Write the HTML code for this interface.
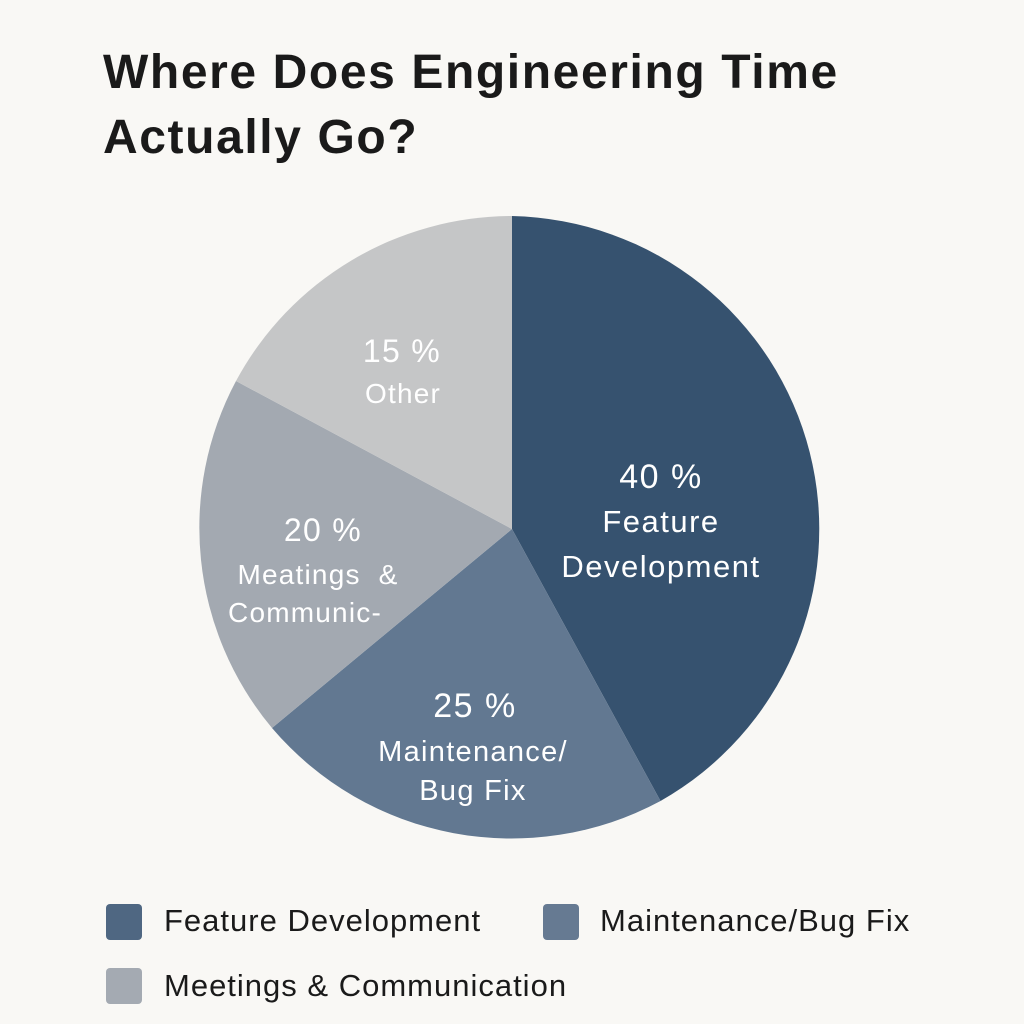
<!DOCTYPE html>
<html><head><meta charset="utf-8"><style>
html,body{margin:0;padding:0;background:#f9f8f5;}
body{width:1024px;height:1024px;overflow:hidden;position:relative;font-family:"Liberation Sans",sans-serif;}
</style></head><body>
<svg width="1024" height="1024" viewBox="0 0 1024 1024" xmlns="http://www.w3.org/2000/svg" style="position:absolute;left:0;top:0">
<rect width="1024" height="1024" fill="#f9f8f5"/>
<text x="103" y="88" font-size="48" font-weight="bold" fill="#1a1a1a" letter-spacing="1.6" font-family="Liberation Sans, sans-serif">Where Does Engineering Time</text>
<text x="103" y="153" font-size="48" font-weight="bold" fill="#1a1a1a" letter-spacing="1.6" font-family="Liberation Sans, sans-serif">Actually Go?</text>
<g>
<path d="M512,529 L512,216 A314,313 0 0 1 660.5,801 Z" fill="#36526f"/>
<path d="M512,529 L660.5,801 A314,313 0 0 1 272,728 Z" fill="#627891"/>
<path d="M512,529 L272,728 A314,313 0 0 1 236,381 Z" fill="#a3a9b1"/>
<path d="M512,529 L236,381 A314,313 0 0 1 512,216 Z" fill="#c5c6c7"/>
</g>
<g fill="#ffffff" font-family="Liberation Sans, sans-serif" text-anchor="middle">
<text x="661" y="488" font-size="34" letter-spacing="1.5">40 %</text>
<text x="661" y="532" font-size="31" letter-spacing="1.5">Feature</text>
<text x="661" y="577" font-size="31" letter-spacing="1.5">Development</text>
<text x="475" y="717" font-size="34" letter-spacing="1.5">25 %</text>
<text x="473" y="761" font-size="29" letter-spacing="1.3">Maintenance/</text>
<text x="473" y="800" font-size="29" letter-spacing="1.3">Bug Fix</text>
<text x="323" y="541" font-size="32" letter-spacing="1.3">20 %</text>
<text x="318" y="584" font-size="28" letter-spacing="1.2" xml:space="preserve">Meatings  &amp;</text>
<text x="305" y="622" font-size="28" letter-spacing="1.2">Communic-</text>
<text x="402" y="362" font-size="32" letter-spacing="1.3">15 %</text>
<text x="403" y="403" font-size="28" letter-spacing="1.2">Other</text>
</g>
<rect x="106" y="904" width="36" height="36" rx="4" fill="#4f6782"/>
<rect x="543" y="904" width="36" height="36" rx="4" fill="#667a92"/>
<rect x="106" y="968" width="36" height="36" rx="4" fill="#a4aab2"/>
<g fill="#1a1a1a" font-family="Liberation Sans, sans-serif" font-size="31" letter-spacing="1">
<text x="164" y="931">Feature Development</text>
<text x="600" y="931">Maintenance/Bug Fix</text>
<text x="164" y="996">Meetings &amp; Communication</text>
</g>
</svg>
</body></html>
